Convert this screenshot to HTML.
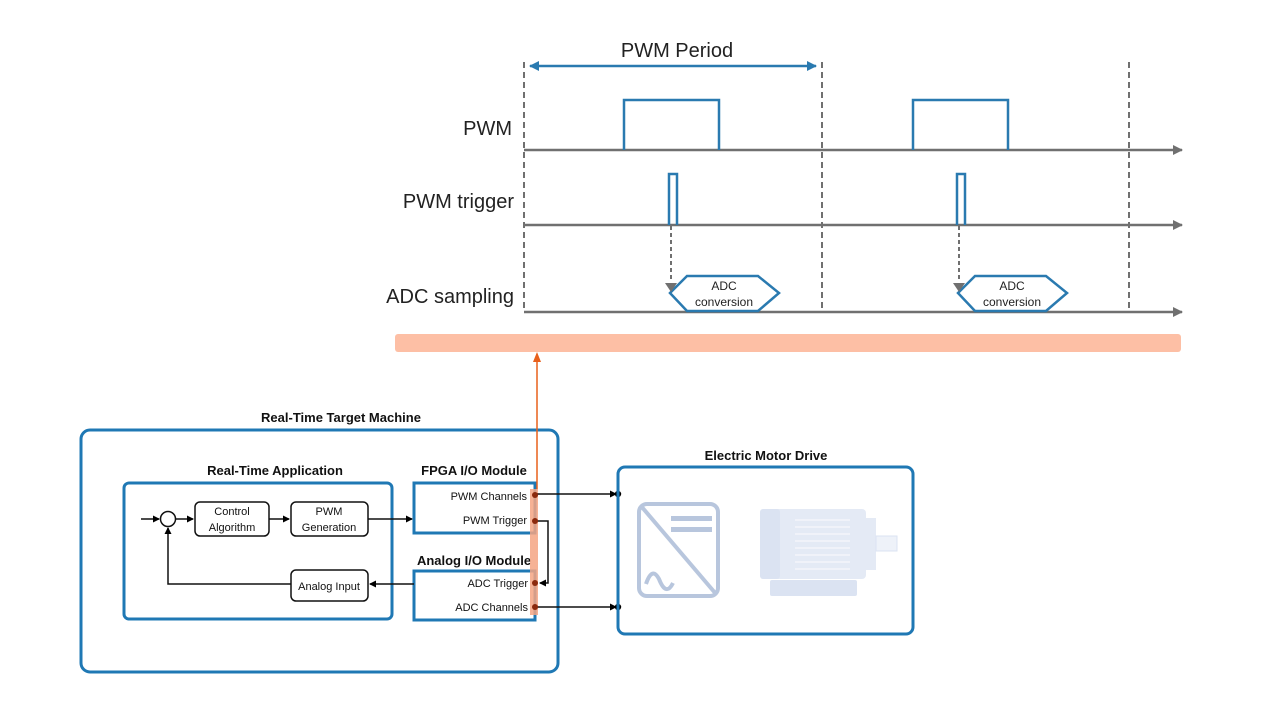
<!DOCTYPE html>
<html><head><meta charset="utf-8"><style>
html,body{margin:0;padding:0;background:#fff;}
svg{display:block;}
text{font-family:"Liberation Sans",sans-serif;}
</style></head><body>
<svg width="1280" height="720" viewBox="0 0 1280 720" xmlns="http://www.w3.org/2000/svg">
<defs>
<marker id="ga" markerWidth="10" markerHeight="10" refX="9" refY="5" orient="auto" markerUnits="userSpaceOnUse"><path d="M0,0 L10,5 L0,10 z" fill="#707070"/></marker>
<marker id="ba" markerWidth="10" markerHeight="10" refX="9" refY="5" orient="auto-start-reverse" markerUnits="userSpaceOnUse"><path d="M0,0 L10,5 L0,10 z" fill="#2a7ab0"/></marker>
<marker id="ka" markerWidth="7" markerHeight="7" refX="6" refY="3.5" orient="auto" markerUnits="userSpaceOnUse"><path d="M0,0 L7,3.5 L0,7 z" fill="#000"/></marker>
</defs>

<g stroke="#707070" stroke-width="2" stroke-dasharray="6,4" fill="none">
<line x1="524" y1="62" x2="524" y2="312"/>
<line x1="822" y1="62" x2="822" y2="312"/>
<line x1="1129" y1="62" x2="1129" y2="312"/>
</g>
<line x1="530" y1="66" x2="816" y2="66" stroke="#2a7ab0" stroke-width="2.5" marker-start="url(#ba)" marker-end="url(#ba)"/>
<text x="677" y="57" font-size="20" text-anchor="middle" fill="#222">PWM Period</text>

<g stroke="#707070" stroke-width="2.5" fill="none">
<line x1="524" y1="150" x2="1182" y2="150" marker-end="url(#ga)"/>
<line x1="524" y1="225" x2="1182" y2="225" marker-end="url(#ga)"/>
<line x1="524" y1="312" x2="1182" y2="312" marker-end="url(#ga)"/>
</g>
<g stroke="#2a7ab0" stroke-width="2.5" fill="none">
<polyline points="624,150 624,100 719,100 719,150"/>
<polyline points="913,150 913,100 1008,100 1008,150"/>
<polyline points="669,225 669,174 677,174 677,225"/>
<polyline points="957,225 957,174 965,174 965,225"/>
<polygon points="670,293 687,276 758,276 779,293 758,311 687,311"/>
<polygon points="958,293 975,276 1046,276 1067,293 1046,311 975,311"/>
</g>
<g stroke="#707070" stroke-width="2" stroke-dasharray="4,3">
<line x1="671" y1="226" x2="671" y2="282"/>
<line x1="959" y1="226" x2="959" y2="282"/>
</g>
<path d="M665,283 L677,283 L671,292 z" fill="#707070"/>
<path d="M953,283 L965,283 L959,292 z" fill="#707070"/>
<g font-size="12" text-anchor="middle" fill="#222">
<text x="724" y="290">ADC</text><text x="724" y="306">conversion</text>
<text x="1012" y="290">ADC</text><text x="1012" y="306">conversion</text>
</g>
<g font-size="20" fill="#222" text-anchor="end">
<text x="512" y="135">PWM</text>
<text x="514" y="208">PWM trigger</text>
<text x="514" y="303">ADC sampling</text>
</g>

<rect x="395" y="334" width="786" height="18" rx="3" fill="#fdbfa5"/>

<rect x="81" y="430" width="477" height="242" rx="9" fill="none" stroke="#1f78b4" stroke-width="3"/>
<text x="341" y="422" font-size="13" font-weight="bold" text-anchor="middle" fill="#111">Real-Time Target Machine</text>
<rect x="124" y="483" width="268" height="136" rx="5" fill="none" stroke="#1f78b4" stroke-width="3"/>
<text x="275" y="475" font-size="13" font-weight="bold" text-anchor="middle" fill="#111">Real-Time Application</text>
<rect x="414" y="483" width="121" height="50" fill="none" stroke="#1f78b4" stroke-width="3"/>
<text x="474" y="475" font-size="13" font-weight="bold" text-anchor="middle" fill="#111">FPGA I/O Module</text>
<rect x="414" y="571" width="121" height="49" fill="none" stroke="#1f78b4" stroke-width="3"/>
<text x="474" y="565" font-size="13" font-weight="bold" text-anchor="middle" fill="#111">Analog I/O Module</text>

<rect x="530" y="489" width="8" height="126" fill="#f4a582" opacity="0.85"/>
<line x1="537" y1="489" x2="537" y2="360" stroke="#e8601c" stroke-width="1.5"/>
<path d="M533,362 L537,352 L541,362 z" fill="#e8601c"/>

<g font-size="11" fill="#111" text-anchor="end">
<text x="527" y="500">PWM Channels</text>
<text x="527" y="524">PWM Trigger</text>
<text x="528" y="587">ADC Trigger</text>
<text x="528" y="611">ADC Channels</text>
</g>

<g fill="none" stroke="#111" stroke-width="1.5">
<rect x="195" y="502" width="74" height="34" rx="5"/>
<rect x="291" y="502" width="77" height="34" rx="5"/>
<rect x="291" y="570" width="77" height="31" rx="5"/>
<circle cx="168" cy="519" r="7.5"/>
<line x1="141" y1="519" x2="159" y2="519" marker-end="url(#ka)"/>
<line x1="176" y1="519" x2="193" y2="519" marker-end="url(#ka)"/>
<line x1="269" y1="519" x2="289" y2="519" marker-end="url(#ka)"/>
<line x1="368" y1="519" x2="412" y2="519" marker-end="url(#ka)"/>
<line x1="414" y1="584" x2="370" y2="584" marker-end="url(#ka)"/>
<polyline points="291,584 168,584 168,528" marker-end="url(#ka)"/>
<line x1="535" y1="494" x2="616" y2="494" marker-end="url(#ka)"/>
<line x1="535" y1="607" x2="616" y2="607" marker-end="url(#ka)"/>
<polyline points="535,521 548,521 548,583 540,583" marker-end="url(#ka)"/>
</g>
<g font-size="11" fill="#111" text-anchor="middle">
<text x="232" y="515">Control</text><text x="232" y="531">Algorithm</text>
<text x="329" y="515">PWM</text><text x="329" y="531">Generation</text>
<text x="329" y="590">Analog Input</text>
</g>
<g fill="#8b2a0e">
<circle cx="535" cy="495" r="3"/><circle cx="535" cy="521" r="3"/>
<circle cx="535" cy="583" r="3"/><circle cx="535" cy="607" r="3"/>
</g>
<g fill="#000"><circle cx="618" cy="494" r="3.2"/><circle cx="618" cy="607" r="3.2"/></g>

<rect x="618" y="467" width="295" height="167" rx="7" fill="none" stroke="#1f78b4" stroke-width="3"/>
<text x="766" y="460" font-size="13" font-weight="bold" text-anchor="middle" fill="#111">Electric Motor Drive</text>
<g stroke="#b8c6dd" fill="none" stroke-width="4">
<rect x="639" y="504" width="79" height="92" rx="8"/>
<line x1="641" y1="506" x2="716" y2="594"/>
<path d="M646,584 q6,-18 13,-5 q7,18 14,4" stroke-width="4"/>
</g>
<g fill="#b8c6dd">
<rect x="671" y="516" width="41" height="5"/>
<rect x="671" y="527" width="41" height="5"/>
</g>
<g>
<rect x="760" y="509" width="106" height="70" rx="4" fill="#e4eaf5"/>
<rect x="760" y="509" width="20" height="70" rx="3" fill="#dbe3f2"/>
<rect x="866" y="518" width="10" height="52" fill="#e4eaf5"/>
<rect x="876" y="536" width="21" height="15" fill="#eef2f9" stroke="#dbe3f2"/>
<rect x="770" y="580" width="87" height="16" rx="2" fill="#dbe3f2"/>
<g stroke="#f6f8fc" stroke-width="1.2">
<line x1="795" y1="520" x2="850" y2="520"/><line x1="795" y1="527" x2="850" y2="527"/>
<line x1="795" y1="534" x2="850" y2="534"/><line x1="795" y1="541" x2="850" y2="541"/>
<line x1="795" y1="548" x2="850" y2="548"/><line x1="795" y1="555" x2="850" y2="555"/>
<line x1="795" y1="562" x2="850" y2="562"/><line x1="795" y1="569" x2="850" y2="569"/>
</g>
</g>
</svg>
</body></html>
